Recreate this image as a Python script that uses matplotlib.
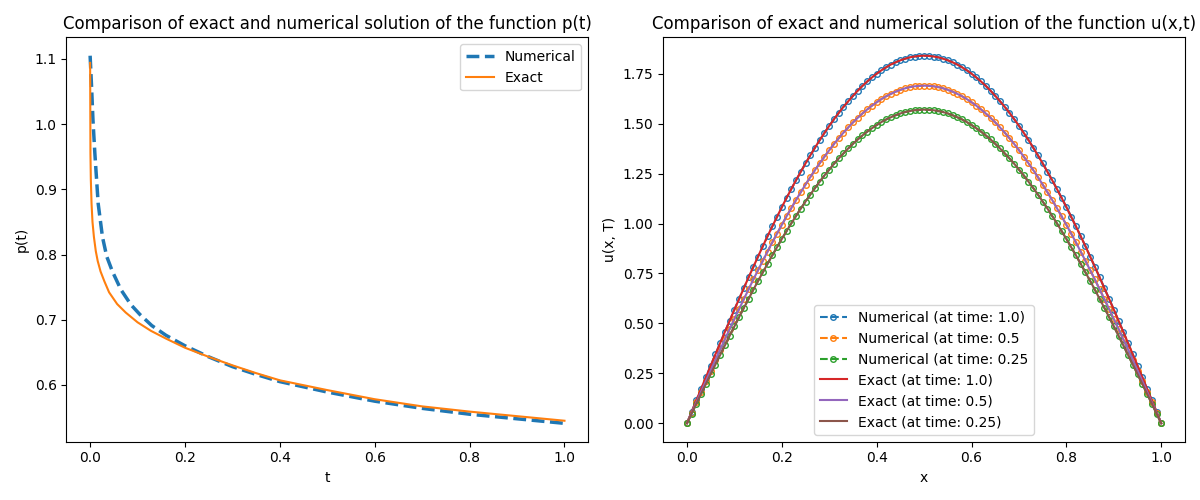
import numpy as np
import matplotlib
matplotlib.use('Agg')
import matplotlib.pyplot as plt

# p(t): numerical and exact values
t_num = [0, 0.003, 0.006, 0.010, 0.017, 0.026, 0.035, 0.047, 0.065, 0.086, 0.105,
         0.13, 0.16, 0.2, 0.25, 0.3, 0.35, 0.4, 0.5, 0.6, 0.7, 0.8, 0.9, 1.0]
p_num = [1.105, 1.058, 1.006, 0.955, 0.878, 0.827, 0.797, 0.774, 0.746, 0.723, 0.708,
         0.691, 0.676, 0.660, 0.643, 0.628, 0.616, 0.605, 0.589, 0.575, 0.564, 0.555, 0.548, 0.541]

t_exact = [0, 0.0002, 0.0007, 0.0015, 0.003, 0.005, 0.008, 0.012, 0.016, 0.022, 0.03, 0.04,
           0.057, 0.075, 0.1, 0.128, 0.16, 0.2, 0.25, 0.3, 0.35, 0.4, 0.5, 0.6, 0.7, 0.8, 0.9, 1.0]
p_exact = [1.094, 1.058, 0.955, 0.915, 0.878, 0.850, 0.827, 0.805, 0.790, 0.774, 0.759, 0.742,
           0.724, 0.711, 0.696, 0.683, 0.671, 0.657, 0.643, 0.630, 0.618, 0.607, 0.592, 0.578, 0.567, 0.559, 0.552, 0.545]

# u(x, T) on the grid x = 0, 0.01, ..., 1
x = np.linspace(0, 1, 101)

u_t10 = [0, 0.058, 0.116, 0.173, 0.231, 0.288, 0.345, 0.401, 0.458, 0.513, 0.569,
         0.623, 0.677, 0.731, 0.783, 0.835, 0.887, 0.937, 0.986, 1.034, 1.082,
         1.128, 1.173, 1.217, 1.259, 1.301, 1.341, 1.380, 1.418, 1.454, 1.489,
         1.522, 1.554, 1.584, 1.612, 1.639, 1.665, 1.689, 1.711, 1.731, 1.750,
         1.767, 1.782, 1.796, 1.807, 1.817, 1.825, 1.832, 1.836, 1.839, 1.840,
         1.839, 1.836, 1.832, 1.825, 1.817, 1.807, 1.796, 1.782, 1.767, 1.750,
         1.731, 1.711, 1.689, 1.665, 1.639, 1.612, 1.584, 1.554, 1.522, 1.489,
         1.454, 1.418, 1.380, 1.341, 1.301, 1.259, 1.217, 1.173, 1.128, 1.082,
         1.034, 0.986, 0.937, 0.887, 0.835, 0.783, 0.731, 0.677, 0.623, 0.569,
         0.513, 0.458, 0.401, 0.345, 0.288, 0.231, 0.173, 0.116, 0.058, 0]

u_t05 = [0, 0.053, 0.106, 0.159, 0.212, 0.264, 0.317, 0.369, 0.420, 0.472, 0.522,
         0.572, 0.622, 0.671, 0.720, 0.767, 0.814, 0.860, 0.906, 0.950, 0.993,
         1.036, 1.077, 1.118, 1.157, 1.195, 1.232, 1.268, 1.302, 1.335, 1.367,
         1.398, 1.427, 1.455, 1.481, 1.506, 1.529, 1.551, 1.571, 1.590, 1.607,
         1.623, 1.637, 1.649, 1.660, 1.669, 1.677, 1.683, 1.687, 1.689, 1.690,
         1.689, 1.687, 1.683, 1.677, 1.669, 1.660, 1.649, 1.637, 1.623, 1.607,
         1.590, 1.571, 1.551, 1.529, 1.506, 1.481, 1.455, 1.427, 1.398, 1.367,
         1.335, 1.302, 1.268, 1.232, 1.195, 1.157, 1.118, 1.077, 1.036, 0.993,
         0.950, 0.906, 0.860, 0.814, 0.767, 0.720, 0.671, 0.622, 0.572, 0.522,
         0.472, 0.420, 0.369, 0.317, 0.264, 0.212, 0.159, 0.106, 0.053, 0]

u_t025 = [0, 0.049, 0.099, 0.148, 0.197, 0.246, 0.294, 0.342, 0.390, 0.438, 0.485,
          0.532, 0.578, 0.623, 0.669, 0.713, 0.756, 0.799, 0.841, 0.882, 0.923,
          0.962, 1.001, 1.038, 1.075, 1.110, 1.145, 1.178, 1.210, 1.241, 1.270,
          1.299, 1.326, 1.351, 1.376, 1.399, 1.421, 1.441, 1.460, 1.477, 1.493,
          1.508, 1.521, 1.532, 1.542, 1.551, 1.558, 1.563, 1.567, 1.569, 1.570,
          1.569, 1.567, 1.563, 1.558, 1.551, 1.542, 1.532, 1.521, 1.508, 1.493,
          1.477, 1.460, 1.441, 1.421, 1.399, 1.376, 1.351, 1.326, 1.299, 1.270,
          1.241, 1.210, 1.178, 1.145, 1.110, 1.075, 1.038, 1.001, 0.962, 0.923,
          0.882, 0.841, 0.799, 0.756, 0.713, 0.669, 0.623, 0.578, 0.532, 0.485,
          0.438, 0.390, 0.342, 0.294, 0.246, 0.197, 0.148, 0.099, 0.049, 0]

num_labels = ['Numerical (at time: 1.0)', 'Numerical (at time: 0.5', 'Numerical (at time: 0.25']
exact_labels = ['Exact (at time: 1.0)', 'Exact (at time: 0.5)', 'Exact (at time: 0.25)']

fig, (ax1, ax2) = plt.subplots(1, 2, figsize=(12, 5), dpi=100)

# left: p(t)
ax1.plot(t_num, p_num, '--', lw=2.5, label='Numerical')
ax1.plot(t_exact, p_exact, '-', lw=1.5, label='Exact')
ax1.set_xlabel('t')
ax1.set_ylabel('p(t)')
ax1.set_title('Comparison of exact and numerical solution of the function p(t)')
ax1.legend()

# right: u(x, T)
series = [u_t10, u_t05, u_t025]
for u, lab in zip(series, num_labels):
    ax2.plot(x, u, 'o--', markersize=4, markerfacecolor='none', label=lab)
for u, lab in zip(series, exact_labels):
    ax2.plot(x, u, '-', label=lab)
ax2.set_xlabel('x')
ax2.set_ylabel('u(x, T)')
ax2.set_title('Comparison of exact and numerical solution of the function u(x,t)')
ax2.legend(loc='lower center')

plt.tight_layout()
plt.savefig('out.png')
